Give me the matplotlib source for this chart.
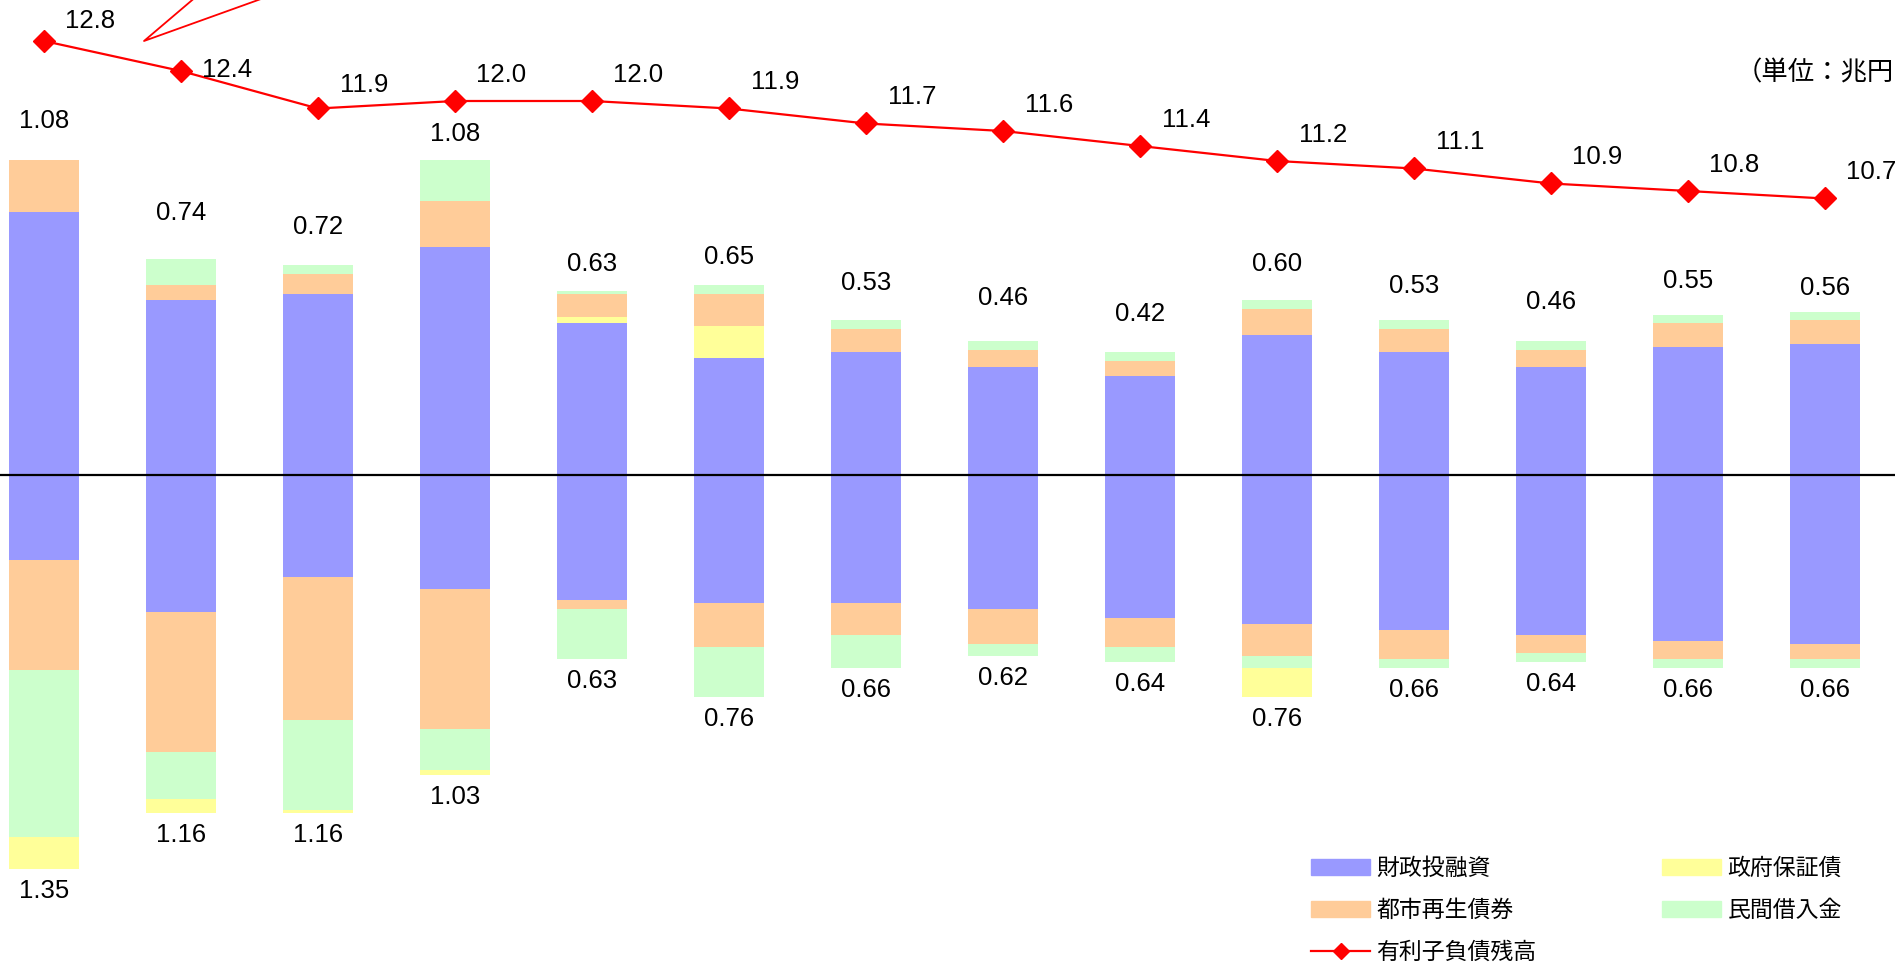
import matplotlib
matplotlib.use('Agg')
import matplotlib.pyplot as plt
from matplotlib.lines import Line2D
from matplotlib.patches import Patch
import numpy as np

plt.rcParams['font.family'] = ['Liberation Sans', 'Noto Sans CJK JP']

# 資金調達 (upper stack), 兆円
up_zaito = [0.90, 0.60, 0.62, 0.78, 0.52, 0.40, 0.42, 0.37, 0.34, 0.48, 0.42, 0.37, 0.44, 0.45]
up_seifu = [0.00, 0.00, 0.00, 0.00, 0.02, 0.11, 0.00, 0.00, 0.00, 0.00, 0.00, 0.00, 0.00, 0.00]
up_toshi = [0.18, 0.05, 0.07, 0.16, 0.08, 0.11, 0.08, 0.06, 0.05, 0.09, 0.08, 0.06, 0.08, 0.08]
up_minkan = [0.00, 0.09, 0.03, 0.14, 0.01, 0.03, 0.03, 0.03, 0.03, 0.03, 0.03, 0.03, 0.03, 0.03]

# 償還 (lower stack), 兆円
down_zaito = [0.29, 0.47, 0.35, 0.39, 0.43, 0.44, 0.44, 0.46, 0.49, 0.51, 0.53, 0.55, 0.57, 0.58]
down_toshi = [0.38, 0.48, 0.49, 0.48, 0.03, 0.15, 0.11, 0.12, 0.10, 0.11, 0.10, 0.06, 0.06, 0.05]
down_minkan = [0.57, 0.16, 0.31, 0.14, 0.17, 0.17, 0.11, 0.04, 0.05, 0.04, 0.03, 0.03, 0.03, 0.03]
down_seifu = [0.11, 0.05, 0.01, 0.02, 0.00, 0.00, 0.00, 0.00, 0.00, 0.10, 0.00, 0.00, 0.00, 0.00]

# 有利子負債残高, 兆円
debt = [12.8, 12.4, 11.9, 12.0, 12.0, 11.9, 11.7, 11.6, 11.4, 11.2, 11.1, 10.9, 10.8, 10.7]

C_ZAITO = '#9999FF'
C_SEIFU = '#FFFF99'
C_TOSHI = '#FFCC99'
C_MINKAN = '#CCFFCC'
C_DEBT = '#FF0000'

# label layout, in pixels
top_label_gap = [39, 46, 38, 26, 27, 28, 37, 43, 38, 36, 34, 39, 34, 24]
debt_label_dy = [20, 1, 23] + [26] * 11

W, H = 1895, 965
PT = 0.72  # points per pixel at dpi 100
fig = plt.figure(figsize=(W / 100, H / 100), dpi=100)
ax = fig.add_axes([0, 0, 1, 1])
ax.set_axis_off()

x = np.arange(len(debt))
bar_w = 0.51

# stacked bars going up from zero
bottom = np.zeros(len(x))
for vals, col in [(up_zaito, C_ZAITO), (up_seifu, C_SEIFU), (up_toshi, C_TOSHI), (up_minkan, C_MINKAN)]:
    vals = np.array(vals)
    ax.bar(x, vals, bar_w, bottom=bottom, color=col, linewidth=0)
    bottom += vals
up_total = bottom.copy()

# and going down
bottom = np.zeros(len(x))
for vals, col in [(down_zaito, C_ZAITO), (down_toshi, C_TOSHI), (down_minkan, C_MINKAN), (down_seifu, C_SEIFU)]:
    vals = np.array(vals)
    ax.bar(x, -vals, bar_w, bottom=-bottom, color=col, linewidth=0)
    bottom += vals
down_total = bottom.copy()

for i in x:
    ax.annotate(f"{round(up_total[i], 2):.2f}", (i, up_total[i]), xytext=(0, top_label_gap[i] * PT),
                textcoords='offset points', ha='center', va='center', fontsize=18.5)
    ax.annotate(f"{round(down_total[i], 2):.2f}", (i, -down_total[i]), xytext=(0, -22 * PT),
                textcoords='offset points', ha='center', va='center', fontsize=18.5)

ax.axhline(0, color='black', lw=1.6, zorder=3)

# 44px to first bar centre, 137px per year
ax.set_xlim(-44 / 137, (W - 44) / 137)
px_per_unit = 291.7
ax.set_ylim(-(H - 475) / px_per_unit, 475 / px_per_unit)

# debt balance on its own scale
ax2 = ax.twinx()
ax2.set_axis_off()
ax2.plot(x, debt, color=C_DEBT, lw=1.6, marker='D', ms=11)
ax2.set_ylim(11.6 - (H - 131) / 75, 11.6 + 131 / 75)

for i, v in enumerate(debt):
    ax2.annotate(f"{v:.1f}", (i, v), xytext=(46 * PT, debt_label_dy[i] * PT),
                 textcoords='offset points', ha='center', va='center', fontsize=18.5)

# tail of a callout hanging in from above
fig.add_artist(Line2D([204 / W, 144 / W, 286 / W], [1 + 10 / H, 1 - 41 / H, 1 + 10 / H],
                      color=C_DEBT, lw=1.3, transform=fig.transFigure))

fig.text(1894 / W, 1 - 73 / H, "（単位：兆円", fontsize=19, ha='right', va='center')

handles = [
    Patch(color=C_ZAITO, label='財政投融資'),
    Patch(color=C_TOSHI, label='都市再生債券'),
    Line2D([], [], color=C_DEBT, lw=1.6, marker='D', ms=8, label='有利子負債残高'),
    Patch(color=C_SEIFU, label='政府保証債'),
    Patch(color=C_MINKAN, label='民間借入金'),
]
fig.legend(handles=handles, ncol=2, loc='upper left', bbox_to_anchor=(1311 / W, 1 - 857 / H),
           frameon=False, fontsize=16.5, borderpad=0, borderaxespad=0, handlelength=2.58,
           handleheight=0.69, handletextpad=0.26, labelspacing=0.83, columnspacing=5.5)

fig.savefig('out.png', dpi=100)
